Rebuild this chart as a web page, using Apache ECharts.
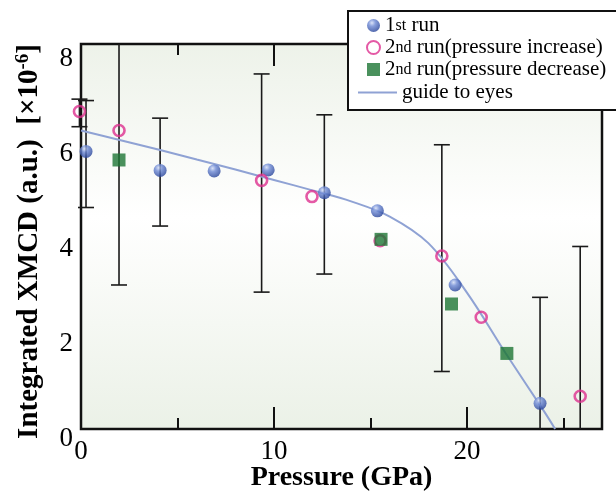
<!DOCTYPE html>
<html>
<head>
<meta charset="utf-8">
<script src="https://cdn.jsdelivr.net/npm/echarts@6/dist/echarts.min.js"></script>
<style>
  html, body { margin: 0; padding: 0; background: #fff; }
  #chart { width: 616px; height: 498px; }
</style>
</head>
<body>
<div id="chart"></div>
<script>
// tick labels
const xTickLabels = [0, 10, 20];
const yTickLabels = [0, 2, 4, 6, 8];

// [pressure GPa, integrated XMCD]
const run1 = [[0.26, 5.84], [4.10, 5.44], [6.9, 5.43], [9.7, 5.45], [12.61, 4.97], [15.36, 4.59], [19.39, 3.03], [23.79, 0.54]];
const run2Increase = [[-0.08, 6.68], [1.97, 6.28], [9.36, 5.23], [11.97, 4.89], [15.5, 3.96], [18.7, 3.64], [20.74, 2.35], [25.87, 0.69]];
const run2Decrease = [[1.97, 5.66], [15.55, 3.99], [19.2, 2.63], [22.07, 1.59]];
// [pressure, low, high]
const errorBars = [[-0.08, 6.36, 6.94], [0.26, 4.66, 6.91], [1.97, 3.03, 8.6], [4.10, 4.27, 6.54], [9.36, 2.88, 7.47],
  [12.61, 3.26, 6.61], [18.7, 1.21, 5.98], [23.79, -0.5, 2.77], [25.87, -0.5, 3.84]];
// guide curve read every 2 GPa
const guide = [[0, 6.28], [2, 6.08], [4, 5.88], [6, 5.67], [8, 5.46], [10, 5.24], [12, 5.02], [14, 4.79],
  [16, 4.47], [18, 3.91], [20, 2.87], [22, 1.6], [24, 0.37], [24.57, 0]];

const serif = "Liberation Serif";
var myChart = echarts.init(document.getElementById("chart"));

function renderErrorBar(params, api) {
  var cs = params.coordSys;
  var x = api.coord([api.value(0), 0])[0];
  var yLow = api.coord([0, api.value(1)])[1];
  var yHigh = api.coord([0, api.value(2)])[1];
  var top = cs.y, bottom = cs.y + cs.height;
  var half = 8;
  var style = { stroke: "#1a1a1a", lineWidth: 1.6 };
  var children = [];
  var y1 = Math.max(yHigh, top), y2 = Math.min(yLow, bottom);
  children.push({ type: "line", shape: { x1: x, y1: y1, x2: x, y2: y2 }, style: style });
  if (yHigh >= top) children.push({ type: "line", shape: { x1: x - half, y1: yHigh, x2: x + half, y2: yHigh }, style: style });
  if (yLow <= bottom) children.push({ type: "line", shape: { x1: x - half, y1: yLow, x2: x + half, y2: yLow }, style: style });
  return { type: "group", children: children };
}

// long ticks every 10, short ticks every 5 (the extra tick at max sits on the frame)
function xAxisDef(pos, interval, len, withLabels) {
  var a = {
    type: "value", position: pos, min: 0, max: 27, interval: interval,
    axisLine: { show: false }, splitLine: { show: false },
    axisTick: { show: true, inside: true, length: len, lineStyle: { color: "#111", width: 2 } },
    axisLabel: { show: false },
  };
  if (withLabels) {
    a.name = "Pressure (GPa)";
    a.nameLocation = "middle";
    a.nameGap = 35;
    a.nameMoveOverlap = false;
    a.nameTextStyle = { fontFamily: serif, fontWeight: "bold", fontSize: 28, color: "#000" };
    a.axisLabel = { show: true, fontFamily: serif, fontSize: 27, color: "#000", margin: 9, customValues: xTickLabels };
  }
  return a;
}

let option = {
  backgroundColor: "#fff",
  animation: false,
  grid: {
    left: 81, right: 14, top: 44, bottom: 69,
    outerBoundsMode: "none",
    containLabel: false,
    show: true,
    borderColor: "#111",
    borderWidth: 2.5,
    backgroundColor: new echarts.graphic.LinearGradient(0, 0, 0, 1, [
      { offset: 0, color: "#edf2e9" },
      { offset: 0.45, color: "#ffffff" },
      { offset: 1, color: "#ebf1e7" },
    ]),
  },
  xAxis: [
    xAxisDef("bottom", 10, 22, true),
    xAxisDef("bottom", 5, 11, false),
    xAxisDef("top", 10, 22, false),
    xAxisDef("top", 5, 11, false),
  ],
  yAxis: {
    type: "value", min: 0, max: 8.1,
    name: "{b|Integrated XMCD (a.u.)}{n|  [×10}{sup|-6}{n|]}",
    nameLocation: "middle", nameGap: 36, nameRotate: 90, nameMoveOverlap: false,
    nameTextStyle: {
      fontFamily: serif, fontSize: 29, color: "#000", padding: [0, 10, 0, 0],
      rich: {
        b: { fontFamily: serif, fontSize: 29, fontWeight: "bold", color: "#000" },
        n: { fontFamily: serif, fontSize: 29, fontWeight: "bold", color: "#000" },
        sup: { fontFamily: serif, fontSize: 19, fontWeight: "bold", color: "#000", verticalAlign: "top", padding: [0, 0, 12, 0] },
      },
    },
    axisLine: { show: false },
    splitLine: { show: false },
    axisTick: { show: false },
    axisLabel: { fontFamily: serif, fontSize: 27, color: "#000", margin: 8, verticalAlign: "top", lineHeight: 20, customValues: yTickLabels },
  },
  legend: [
    {
      orient: "vertical", left: 361, top: 10, itemWidth: 13, itemHeight: 13, itemGap: 1,
      data: ["1st run", "2nd run(pressure increase)", "2nd run(pressure decrease)"],
      formatter: function (name) { return name.replace(/^(\d)(st|nd)/, "$1{s|$2}"); },
      textStyle: { fontFamily: serif, fontSize: 21, color: "#000", rich: { s: { fontFamily: serif, fontSize: 16, color: "#000" } } },
      z: 10,
    },
    {
      orient: "vertical", left: 353, top: 77, itemWidth: 39, itemHeight: 13,
      data: [{ name: "guide to eyes", icon: "path://M0,0H40V2H0Z" }],
      textStyle: { fontFamily: serif, fontSize: 21, color: "#000" },
      z: 10,
    },
  ],
  graphic: [
    {
      type: "rect", left: 347, top: 10, z: 8,
      shape: { width: 290, height: 99 },
      style: { fill: "#fff", stroke: "#111", lineWidth: 2 },
    },
  ],
  series: [
    {
      type: "custom", name: "error", renderItem: renderErrorBar,
      encode: { x: 0, y: [1, 2] }, data: errorBars, z: 2, silent: true,
    },
    {
      type: "line", name: "guide to eyes", data: guide, smooth: 0.35,
      symbol: "none", showSymbol: false, lineStyle: { color: "#8fa2d4", width: 2 }, itemStyle: { color: "#8fa2d4" }, z: 3,
    },
    {
      type: "scatter", name: "1st run", data: run1, symbol: "circle", symbolSize: 13, clip: false, z: 4,
      itemStyle: {
        color: new echarts.graphic.RadialGradient(0.38, 0.3, 0.75, [
          { offset: 0, color: "#d2dcf6" },
          { offset: 0.35, color: "#6c88d4" },
          { offset: 1, color: "#213d94" },
        ]),
      },
    },
    {
      type: "scatter", name: "2nd run(pressure increase)", data: run2Increase, symbol: "circle", symbolSize: 11, clip: false, z: 5,
      itemStyle: { color: "rgba(255,255,255,0)", borderColor: "#dd2f8f", borderWidth: 2.6 },
    },
    {
      type: "scatter", name: "2nd run(pressure decrease)", data: run2Decrease, symbol: "rect", symbolSize: 13, clip: false, z: 6,
      itemStyle: { color: "#1d7635" },
    },
  ],
};
myChart.setOption(option);
</script>
</body>
</html>
